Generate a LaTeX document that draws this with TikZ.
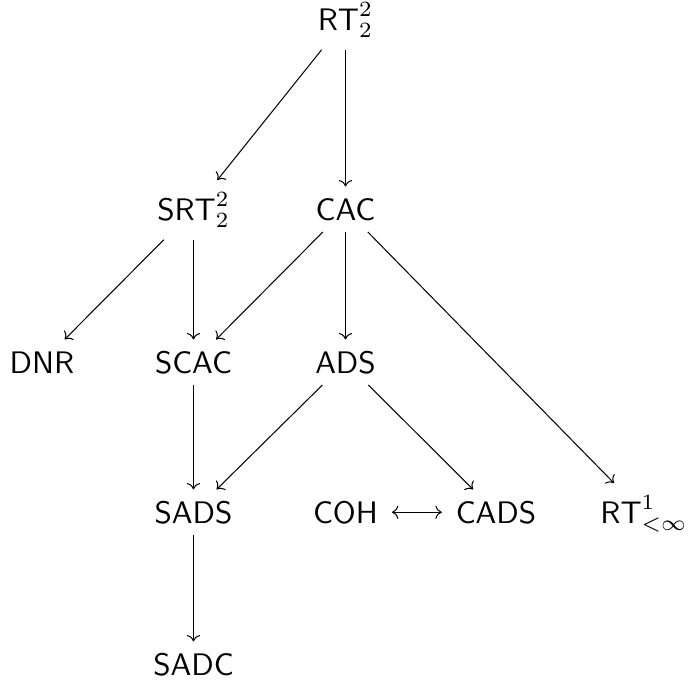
\documentclass[tikz,border=0pt]{standalone}
\usetikzlibrary{cd}
\begin{document}
\begin{tikzpicture}[x=0.3215pt,y=-0.3215pt,
  cell/.style={inner xsep=1ex,inner ysep=0.85ex,anchor=base},
  arr/.style={arrows={-cm to},line width=0.33pt},
  biarr/.style={arrows={cm to-cm to},line width=0.33pt}]
\useasboundingbox (0,0) rectangle (688,681);
\node[cell] (rt22) at (345.5,30) {$\mathsf{RT}^2_2$};
\node[cell] (srt) at (193.5,220) {$\mathsf{SRT}^2_2$};
\node[cell] (cac) at (345.5,220) {$\mathsf{CAC}$};
\node[cell] (dnr) at (42,373) {$\mathsf{DNR}$};
\node[cell] (scac) at (193.5,373) {$\mathsf{SCAC}$};
\node[cell] (ads) at (345.5,373) {$\mathsf{ADS}$};
\node[cell] (sads) at (193.5,523) {$\mathsf{SADS}$};
\node[cell] (coh) at (345.5,523) {$\mathsf{COH}$};
\node[cell] (cads) at (496,523) {$\mathsf{CADS}$};
\node[cell] (rt1) at (644,523) {$\mathsf{RT}^1_{<\infty}$};
\node[cell] (sadc) at (193.5,675) {$\mathsf{SADC}$};
\draw[arr] (rt22) -- (srt);
\draw[arr] (rt22) -- (cac);
\draw[arr] (srt) -- (dnr);
\draw[arr] (srt) -- (scac);
\draw[arr] (cac) -- (scac);
\draw[arr] (cac) -- (ads);
\draw[arr] (cac) -- (rt1);
\draw[arr] (scac) -- (sads);
\draw[arr] (ads) -- (sads);
\draw[arr] (ads) -- (cads);
\draw[biarr] (coh) -- (cads);
\draw[arr] (sads) -- (sadc);
\end{tikzpicture}
\end{document}
